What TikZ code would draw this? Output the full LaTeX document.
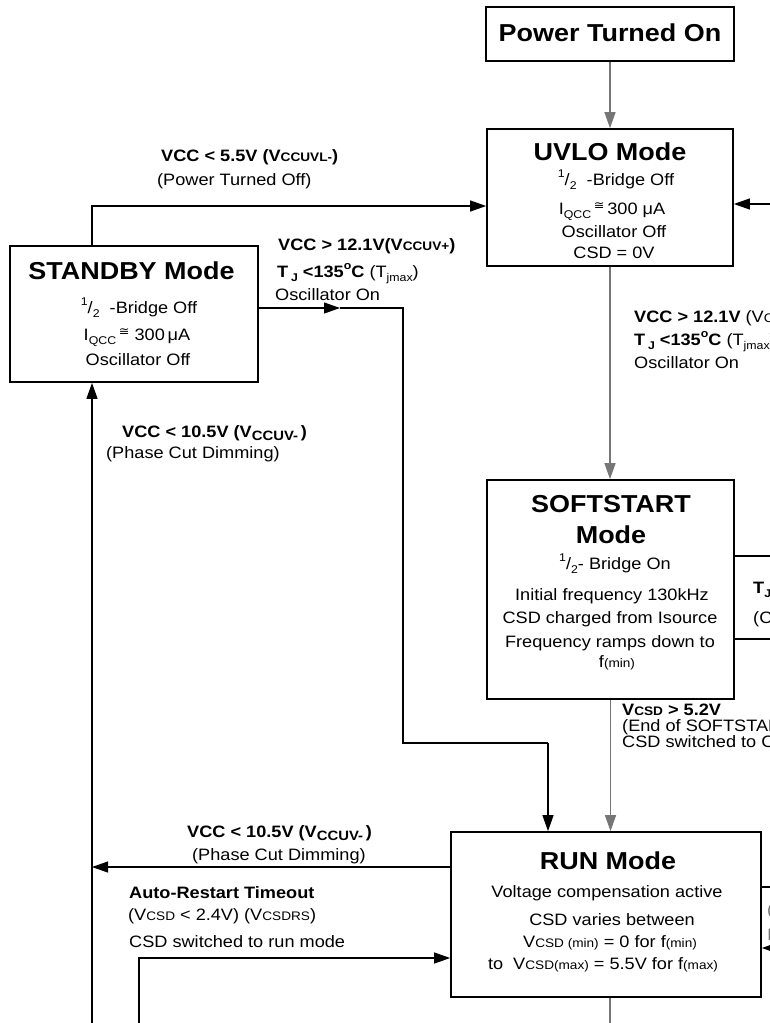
\documentclass[tikz,border=0pt]{standalone}
\usepackage{fontspec}
\setmainfont{Liberation Sans}[FakeStretch=1.1]
\newfontfamily\dejavu{DejaVu Sans}[FakeStretch=1.1]
\usetikzlibrary{arrows.meta}
\definecolor{lgray}{RGB}{118,118,118}
\newcommand\lsub[1]{\raisebox{-0.28em}{\scalebox{0.68}{#1}}}
\newcommand\lsubb[1]{\raisebox{-0.2em}{\scalebox{0.82}{#1}}}
\newcommand\lsup[1]{\raisebox{0.45em}{\scalebox{0.68}{#1}}}
\newcommand\smc[1]{\scalebox{0.75}{#1}}
\newcommand\congsym{{\dejavu\raisebox{0.25em}{\scalebox{0.7}{≅}}}}
\begin{document}
\begin{tikzpicture}[x=1pt,y=-1pt,
  box/.style={draw=black, line width=1.7pt, inner sep=0pt, rectangle},
  conn/.style={line width=1.1pt, draw=black},
  gconn/.style={line width=1.3pt, draw=lgray},
  tip/.style={-{Triangle[length=16pt,width=11pt]}},
  txt/.style={anchor=base, inner sep=0pt, font=\fontsize{16.5}{19}\selectfont},
  ttl/.style={anchor=base, inner sep=0pt, font=\fontsize{24.5}{28}\selectfont\bfseries},
  lbl/.style={anchor=base west, inner sep=0pt, font=\fontsize{16.5}{19}\selectfont},
  blbl/.style={anchor=base west, inner sep=0pt, font=\fontsize{16.5}{19}\selectfont\bfseries}]
\useasboundingbox (0,0) rectangle (770,1023);
\clip (0,0) rectangle (770,1023);
\fill[white] (0,0) rectangle (770,1023);

% boxes
\node[box, minimum width=248pt, minimum height=54pt] (pto) at (610,34) {};
\node[box, minimum width=246pt, minimum height=137pt] (uvlo) at (610,197.5) {};
\node[box, minimum width=248pt, minimum height=136pt] (stby) at (134,314) {};
\node[box, minimum width=247pt, minimum height=219pt] (soft) at (610.5,589.5) {};
\node[box, minimum width=310pt, minimum height=165pt] (run) at (606,914.5) {};

% coordinates
\coordinate (c1) at (92,206);
\coordinate (r1) at (770,204);
\coordinate (c2) at (403,308);
\coordinate (m1) at (340,308);
\coordinate (c3) at (403,743);
\coordinate (c4) at (548,743);
\coordinate (b1) at (92,1023);
\coordinate (c5) at (92,867);
\coordinate (b2) at (139,1023);
\coordinate (c6) at (139,958);
\coordinate (r2) at (770,556);
\coordinate (r3) at (770,639);
\coordinate (r4) at (770,887);
\coordinate (r5) at (770,948);
\coordinate (rb) at (610,1023);

% connectors
\draw[gconn,tip] (pto.south) -- (uvlo.north);
\draw[gconn,tip] (uvlo.south) -- (uvlo.south |- soft.north);
\draw[gconn,tip] (soft.south) -- (soft.south |- run.north);
\draw[gconn] (rb |- run.south) -- (rb);
\draw[conn,tip] (c1 |- stby.north) -- (c1) -- (c1 -| uvlo.west);
\draw[conn,tip] (r1) -- (r1 -| uvlo.east);
\draw[conn,tip] (c2 -| stby.east) -- (m1);
\draw[conn] (m1) -- (c2) -- (c3) -- (c4);
\draw[conn,tip] (c4) -- (c4 |- run.north);
\draw[conn,tip] (b1) -- (b1 |- stby.south);
\draw[conn,tip] (c5 -| run.west) -- (c5);
\draw[conn,tip] (b2) -- (c6) -- (c6 -| run.west);
\draw[conn] (r2 -| soft.east) -- (r2);
\draw[conn] (r3 -| soft.east) -- (r3);
\draw[conn] (r4 -| run.east) -- (r4);
\draw[conn,tip] (r5) -- (r5 -| run.east);

% box texts
\node[ttl] (t1) at (610,41) {Power Turned On};

\node[ttl] (u1) at (610,160) {UVLO Mode};
\node[txt] (u2) at (616,185) {\lsup{1}/\lsub{2}\ \ -Bridge Off};
\node[txt] (u3) at (612,214) {I\lsub{QCC}\,\congsym\,300 μA};
\node[txt] (u4) at (614,237) {Oscillator Off};
\node[txt] (u5) at (614,258) {CSD = 0V};

\node[ttl] (s1) at (131.5,279) {STANDBY Mode};
\node[txt] (s2) at (139,313) {\lsup{1}/\lsub{2}\ \ -Bridge Off};
\node[txt] (s3) at (137,340) {I\lsub{QCC}\,\congsym\ 300\,μA};
\node[txt] (s4) at (138,365) {Oscillator Off};

\node[ttl] (f1) at (611,512) {SOFTSTART};
\node[ttl] (f2) at (611,543) {Mode};
\node[txt] (f3) at (615,569) {\lsup{1}/\lsub{2}- Bridge On};
\node[txt] (f4) at (612,600) {Initial frequency 130kHz};
\node[txt] (f5) at (610,623) {CSD charged from Isource};
\node[txt] (f6) at (610,647) {Frequency ramps down to};
\node[txt] (f7) at (617,667) {f\smc{(min)}};

\node[ttl] (n1) at (608,869) {RUN Mode};
\node[txt] (n2) at (607,897) {Voltage compensation active};
\node[txt] (n3) at (612,925) {CSD varies between};
\node[txt] (n4) at (610,947) {V\smc{CSD (min)} = 0 for f\smc{(min)}};
\node[txt] (n5) at (603,969) {to\ \ V\smc{CSD(max)} = 5.5V for f\smc{(max)}};

% labels
\node[blbl] (l1) at (161,161) {VCC < 5.5V (V\smc{CCUVL-})};
\node[lbl] (l2) at (157,185) {(Power Turned Off)};
\node[blbl] (l3) at (278,250) {VCC > 12.1V(V\smc{CCUV+})};
\node[lbl] (l4) at (277,277) {\textbf{T\,\lsub{J}\ <135\lsup{o}C} (T\lsub{jmax})};
\node[lbl] (l5) at (275,300) {Oscillator On};

\node[lbl] (l6) at (634,322) {\textbf{VCC > 12.1V} (V\smc{CCUV+})};
\node[lbl] (l7) at (634,345) {\textbf{T\,\lsub{J}\ <135\lsup{o}C} (T\lsub{jmax})};
\node[lbl] (l8) at (634,368) {Oscillator On};

\node[blbl] (l9) at (122,437) {VCC < 10.5V (V\lsubb{CCUV-}\,)};
\node[lbl] (l10) at (106,458) {(Phase Cut Dimming)};

\node[blbl] (l11) at (187,837) {VCC < 10.5V (V\lsubb{CCUV-}\,)};
\node[lbl] (l12) at (192,860) {(Phase Cut Dimming)};
\node[blbl] (l13) at (129,898) {Auto-Restart Timeout};
\node[lbl] (l14) at (128,920) {(V\smc{CSD} < 2.4V) (V\smc{CSDRS})};
\node[lbl] (l15) at (129,947) {CSD switched to run mode};

\node[blbl] (l16) at (622,715) {V\smc{CSD} > 5.2V};
\node[lbl] (l17) at (622,731) {(End of SOFTSTART Mode)};
\node[lbl] (l18) at (622,747) {CSD switched to Compensation};

\node[blbl] (l19) at (753,593) {T\lsub{J}};
\node[lbl] (l20) at (753,623) {(CSD)};

\node[lbl, text=lgray] (l21) at (767,915) {(};
\node[lbl, text=lgray] (l22) at (767,940) {I};
\end{tikzpicture}
\end{document}
